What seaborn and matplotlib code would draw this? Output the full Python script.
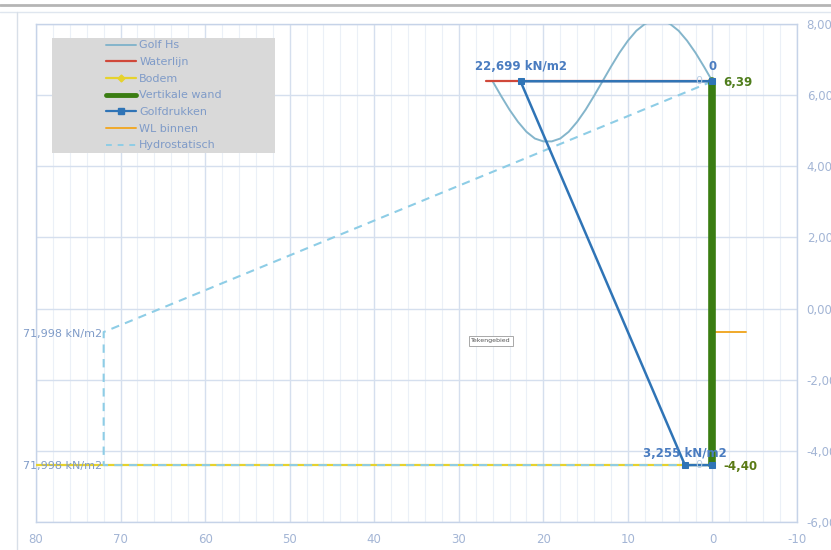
import matplotlib
matplotlib.use("Agg")
import numpy as np
import matplotlib.pyplot as plt
from matplotlib.lines import Line2D
from matplotlib.patches import Rectangle
import seaborn as sns

# ---- data ----
golf_x = [26, 25, 24, 23, 22, 21, 20, 19, 18, 17, 16, 15, 14, 13,
          12, 11, 10, 9, 8, 7, 6, 5, 4, 3, 2, 1, 0]
golf_y = [6.39, 5.98, 5.59, 5.25, 4.97, 4.78, 4.70, 4.70, 4.78, 4.97, 5.25, 5.59, 5.98, 6.39,
          6.80, 7.19, 7.53, 7.81, 8.00, 8.10, 8.10, 8.00, 7.81, 7.53, 7.19, 6.80, 6.39]
water_x = [26.8, 0]
water_y = [6.39, 6.39]
bodem_x = [80, 0]
bodem_y = [-4.40, -4.40]
wand_x = [0, 0]
wand_y = [-4.40, 6.39]
druk_x = [0, 22.699, 3.255, 0]
druk_y = [6.39, 6.39, -4.40, -4.40]
wl_binnen_x = [0, -4]
wl_binnen_y = [-0.66, -0.66]
hydro_x = [0, 71.998, 71.998, 0]
hydro_y = [6.39, -0.66, -4.40, -4.40]

x_ticks = [80, 70, 60, 50, 40, 30, 20, 10, 0, -10]
y_ticks = [8, 6, 4, 2, 0, -2, -4, -6]
y_ticklabels = ["8,00", "6,00", "4,00", "2,00", "0,00", "-2,00", "-4,00", "-6,00"]

# colours
c_golf = "#84b5cb"
c_water = "#d0483a"
c_bodem = "#e6d22c"
c_wand = "#3a7d12"
c_druk = "#2f74b6"
c_wl = "#f0a92a"
c_hydro = "#8ecde6"
c_text = "#7f9bc8"
c_tick = "#a3b5d5"

sns.set_style("white")
plt.rcParams["font.family"] = ["DejaVu Sans"]

fig = plt.figure(figsize=(8.31, 5.5), dpi=100)
ax = fig.add_axes([36 / 831, 1 - 522 / 550, 761 / 831, 498 / 550])

sns.lineplot(x=golf_x, y=golf_y, sort=False, estimator=None, ax=ax,
             color=c_golf, lw=1.4, zorder=3)
sns.lineplot(x=water_x, y=water_y, sort=False, estimator=None, ax=ax,
             color=c_water, lw=1.6, zorder=3)
sns.lineplot(x=bodem_x, y=bodem_y, sort=False, estimator=None, ax=ax,
             color=c_bodem, lw=1.6, zorder=3)
sns.lineplot(x=hydro_x, y=hydro_y, sort=False, estimator=None, ax=ax,
             color=c_hydro, lw=1.5, linestyle=(0, (4, 3)), zorder=4)
sns.lineplot(x=wl_binnen_x, y=wl_binnen_y, sort=False, estimator=None, ax=ax,
             color=c_wl, lw=1.4, zorder=3)
sns.lineplot(x=wand_x, y=wand_y, sort=False, estimator=None, ax=ax,
             color=c_wand, lw=5.5, zorder=5)
sns.lineplot(x=druk_x, y=druk_y, sort=False, estimator=None, ax=ax,
             color=c_druk, lw=1.8, marker="s", markersize=4.5,
             markeredgecolor=c_druk, zorder=6)

ax.set_xlim(80, -10)
ax.set_ylim(-6, 8)
ax.set_xticks(x_ticks)
ax.set_xticklabels([str(v) for v in x_ticks])
ax.set_xticks(np.arange(-10, 81, 2), minor=True)
ax.set_yticks(y_ticks)
ax.set_yticklabels(y_ticklabels)
ax.yaxis.tick_right()
ax.tick_params(axis="both", which="both", length=0, colors=c_tick, labelsize=8.5)
ax.tick_params(axis="y", pad=7)
ax.tick_params(axis="x", pad=8)
ax.grid(which="major", color="#d5dfee", lw=1.0, zorder=0)
ax.grid(which="minor", axis="x", color="#ebf0f7", lw=0.8, zorder=0)
for s in ax.spines.values():
    s.set_color("#c6d3e8")
    s.set_linewidth(1.0)
ax.set_xlabel("")
ax.set_ylabel("")

# data labels
bold = dict(fontsize=8.5, fontweight="bold", textcoords="offset points", zorder=8)
ax.annotate("22,699 kN/m2", (druk_x[1], druk_y[1]), xytext=(0, 6),
            ha="center", va="bottom", color="#4a7cc0", **bold)
ax.annotate("0", (druk_x[0], druk_y[0]), xytext=(0, 6),
            ha="center", va="bottom", color="#4a7cc0", **bold)
ax.annotate("3,255 kN/m2", (druk_x[2], druk_y[2]), xytext=(0, 4),
            ha="center", va="bottom", color="#4a7cc0", **bold)
ax.annotate("6,39", (wand_x[1], wand_y[1]), xytext=(8, -1),
            ha="left", va="center", color="#4f7d1c", **bold)
ax.annotate("-4,40", (wand_x[0], wand_y[0]), xytext=(8, -1),
            ha="left", va="center", color="#5a7a14", **bold)

thin = dict(fontsize=8, textcoords="offset points", zorder=8)
ax.annotate("71,998 kN/m2", (hydro_x[1], hydro_y[1]), xytext=(-1, -1.5),
            ha="right", va="center", color=c_text, **thin)
ax.annotate("71,998 kN/m2", (hydro_x[2], hydro_y[2]), xytext=(-1, -0.5),
            ha="right", va="center", color=c_text, **thin)
ax.annotate("0", (hydro_x[0], hydro_y[0]), xytext=(-7, 0),
            ha="right", va="center", color="#b7cde4", **thin)
ax.annotate("0", (hydro_x[3], hydro_y[3]), xytext=(-7, 0),
            ha="right", va="center", color="#b7cde4", **thin)

ax.text(26.2, -0.91, "Tekengebied", fontsize=4.5, color="#555555",
        ha="center", va="center", zorder=9,
        bbox=dict(boxstyle="square,pad=0.35", fc="white", ec="#9a9a9a", lw=0.6))

# legend on a grey panel
ax.add_patch(Rectangle((0.021, 0.741), 0.293, 0.231, transform=ax.transAxes,
                       facecolor="#d9d9d9", edgecolor="none", zorder=9))
handles = [
    Line2D([], [], color=c_golf, lw=1.4),
    Line2D([], [], color=c_water, lw=1.6),
    Line2D([], [], color=c_bodem, lw=1.6, marker="D", markersize=3.5),
    Line2D([], [], color=c_wand, lw=3.5),
    Line2D([], [], color=c_druk, lw=1.6, marker="s", markersize=4),
    Line2D([], [], color=c_wl, lw=1.4),
    Line2D([], [], color=c_hydro, lw=1.4, linestyle=(0, (3, 3))),
]
labels = ["Golf Hs", "Waterlijn", "Bodem", "Vertikale wand", "Golfdrukken",
          "WL binnen", "Hydrostatisch"]
leg = ax.legend(handles, labels, loc="upper left", bbox_to_anchor=(0.092, 0.967),
                frameon=False, fontsize=8, handlelength=2.7, handletextpad=0.3,
                labelspacing=0.6, borderpad=0, borderaxespad=0)
leg.set_zorder(10)
for t in leg.get_texts():
    t.set_color(c_text)

# outer frame lines of the original chart window
fig.add_artist(Line2D([0, 1], [1 - 5 / 550] * 2, transform=fig.transFigure,
                      color="#b5b5b5", lw=2))
fig.add_artist(Line2D([0, 1], [1 - 12 / 550] * 2, transform=fig.transFigure,
                      color="#dfe6ef", lw=1))
fig.add_artist(Line2D([17 / 831] * 2, [0, 1 - 12 / 550], transform=fig.transFigure,
                      color="#d8dfe8", lw=1))

fig.savefig("out.png", dpi=100)
